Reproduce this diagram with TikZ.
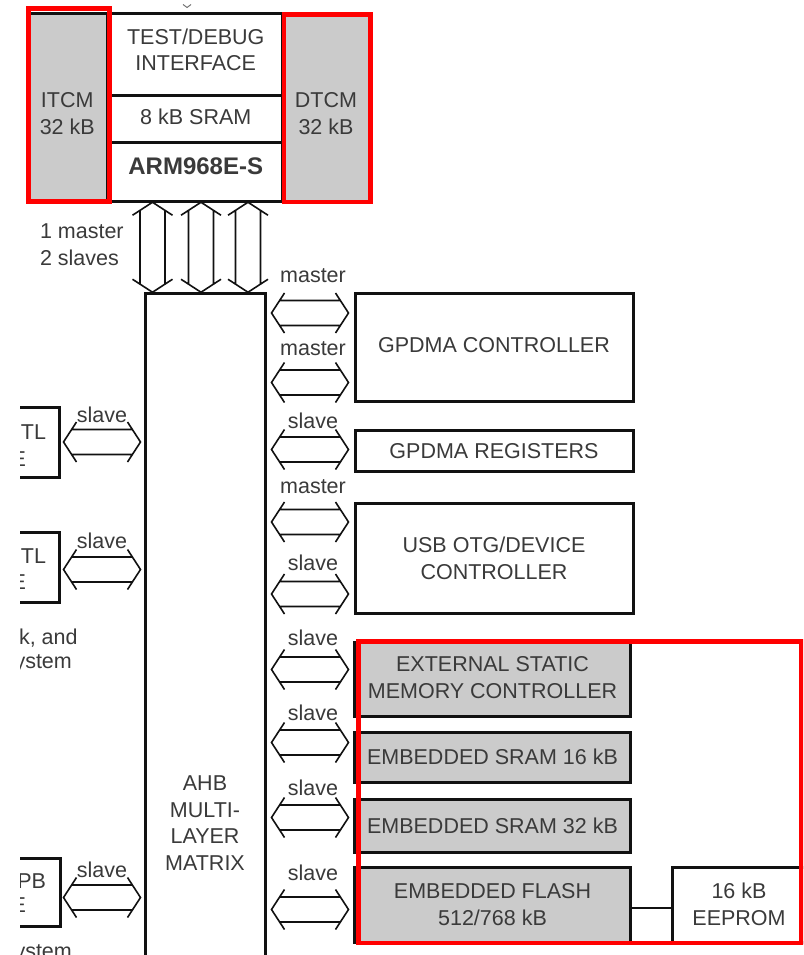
\documentclass[tikz,border=0pt]{standalone}
\usepackage{fontspec}
\setmainfont{Liberation Sans}
\usetikzlibrary{calc}
\definecolor{bdInk}{HTML}{3A3A3A}
\definecolor{bdLine}{HTML}{111111}
\definecolor{bdShade}{HTML}{CBCBCB}
\definecolor{bdRed}{HTML}{FF0000}
\newcommand{\BDType}{\fontsize{21.5}{26.5}\selectfont}
\tikzset{bd/base/.style={x=1pt,y=-1pt,line cap=butt,line join=miter,
  every node/.style={font=\BDType,inner sep=0pt,outer sep=0pt,text=bdInk}},
  bd/box/.style={draw=bdLine,fill=white,line width=3pt,align=center,anchor=north west},
  bd/mem/.style={bd/box,fill=bdShade},
  bd/frame/.style={draw=bdRed,line width=4.5pt},
  bd/bus/.style={draw=bdLine,line width=1.6pt},
  pics/busarrow/.style={code={%
    \draw[bd/bus] (-#1+13,-20)--(-#1,0)--(-#1+13,20) (#1-13,-20)--(#1,0)--(#1-13,20)
      (-#1+8,-12.5)--(#1-8,-12.5) (-#1+8,12.5)--(#1-8,12.5);}}}

\begin{document}
\begin{tikzpicture}[bd/base]
  \path[use as bounding box] (0,0) rectangle (803,955);
  \clip (20,0) rectangle (803,955);
  % Core with its two tightly coupled memories.
  \node[bd/mem,minimum width=80.5,minimum height=188,text height=53.9] (itcm) at (27,13.5) {ITCM\\32 kB};
  \node[bd/box,minimum width=172.5,minimum height=82.5,text depth=10] (dbg) at (109.5,13.5) {TEST/DEBUG\\INTERFACE};
  \node[bd/box,minimum width=172.5,minimum height=46,text depth=4] (sram) at (dbg.south west) {8 kB SRAM};
  \node[bd/box,minimum width=172.5,minimum height=59.5,text depth=12,font={\fontsize{24}{28}\selectfont\bfseries}]
    (arm) at (sram.south west) {ARM968E-S};
  \node[bd/mem,minimum width=88,minimum height=188,text height=53.9] (dtcm) at (282,13.5) {DTCM\\32 kB};
  \draw[bd/bus,line width=1pt,bdInk!70] (183,4.5)--(187,7.5)--(191,4.5);
  \draw[bd/frame] (28.5,8.5) rectangle (109.5,201.5);
  \draw[bd/frame] (284,14.5) rectangle (370.5,202);
  % Bus matrix and the blocks hanging off it.
  \node[bd/box,minimum width=120,minimum height=700] (ahb) at (145,293) {};
  \node[align=center] (ahbtxt) at (205,823) {AHB\\MULTI-\\LAYER\\MATRIX};
  \node[bd/box,minimum width=278,minimum height=108.5,text depth=5] (gpdmac) at (355,293) {GPDMA CONTROLLER};
  \node[bd/box,minimum width=278,minimum height=41.5] (gpdmar) at (355,430) {GPDMA REGISTERS};
  \node[bd/box,minimum width=278,minimum height=110.5] (usb) at (355,503) {USB OTG/DEVICE\\CONTROLLER};
  \node[bd/mem,minimum width=276,minimum height=73.5,text depth=4] (esmc) at (354.5,642.5) {EXTERNAL STATIC\\MEMORY CONTROLLER};
  \node[bd/mem,minimum width=276,minimum height=50] (sram16) at (354.5,732) {EMBEDDED SRAM 16 kB};
  \node[bd/mem,minimum width=276,minimum height=53] (sram32) at (354.5,799) {EMBEDDED SRAM 32 kB};
  \node[bd/mem,minimum width=276,minimum height=75] (flash) at (354.5,867) {EMBEDDED FLASH\\512/768 kB};
  \node[bd/box,minimum width=134,minimum height=75] (eeprom) at (672,867) {16 kB\\EEPROM};
  \draw[bd/bus] ([yshift=-3.5pt]flash.east) -- ([yshift=-3.5pt]eeprom.west);
  \draw[bd/frame] (358.5,641.5) rectangle (801.5,943);
  % Bridges on the left, cut by the page edge.
  \node[bd/box,minimum width=100,minimum height=70] (tl1) at (-41,407) {};
  \node[bd/box,minimum width=100,minimum height=70] (tl2) at (-41,532) {};
  \node[bd/box,minimum width=101,minimum height=68.5] (pb) at (-41,858) {};
  \node[anchor=east] (tl1a) at (46,432.5) {TL};
  \node[anchor=east] (tl1b) at (26,459) {E};
  \node[anchor=east] (tl2a) at (46,556.5) {TL};
  \node[anchor=east] (tl2b) at (26,582) {E};
  \node[anchor=east] (pba) at (46,881) {PB};
  \node[anchor=east] (pbb) at (26,905.5) {E};
  \node[anchor=base west] (cgua) at (19,644) {k, and};
  \node[anchor=base west] (cgub) at (14.5,668) {ystem};
  \node[anchor=base west] (pbsys) at (14.5,958) {ystem};
  % Hollow bus arrows.
  \coordinate (vb) at ($(arm.south)!.5!(ahb.north)$);
  \foreach \x in {152.5,201,248}{\pic[rotate=90] at (\x,0 |- vb) {busarrow=45};}
  \node[align=left,anchor=west] (vlab) at (40,244.5) {1 master\\2 slaves};
  \coordinate (rb) at ($(ahb.east)!.5!(gpdmac.west)$);
  \foreach \y/\lab/\b [count=\i] in {313/master/282,382.5/master/355,449.5/slave/428,
      522/master/493,594/slave/570,669.5/slave/645,742.5/slave/720,817.5/slave/795,909.5/slave/880}{%
    \pic at (rb |- 0,\y) {busarrow=38.5};
    \node[anchor=base,xshift=3pt] (rlab\i) at (rb |- 0,\b) {\lab};}
  \coordinate (lb) at ($(tl1.east)!.5!(ahb.west)$);
  \foreach \y/\b [count=\i] in {442/422,569.5/548,897.5/877}{%
    \pic at (lb |- 0,\y) {busarrow=38.5};
    \node[anchor=base] (llab\i) at (lb |- 0,\b) {slave};}
\end{tikzpicture}
\end{document}
